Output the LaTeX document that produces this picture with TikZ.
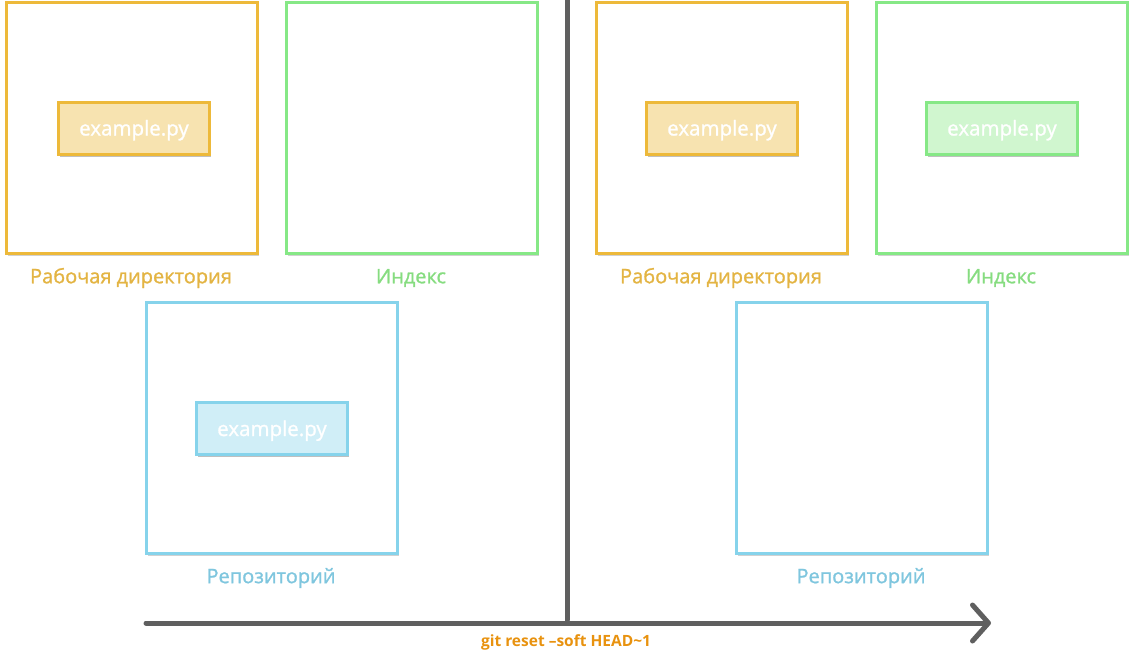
\documentclass[tikz,border=0pt]{standalone}
\usepackage{fontspec}
\setmainfont{Open Sans}
\newfontfamily\medfont{Open Sans}[FakeBold=1.2]
\usetikzlibrary{arrows.meta,shadows}
\definecolor{yel}{HTML}{EDB93A}
\definecolor{yelfill}{HTML}{F7E3B0}
\definecolor{yeltext}{HTML}{E3B443}
\definecolor{grn}{HTML}{86E886}
\definecolor{grnfill}{HTML}{D0F6CF}
\definecolor{grntext}{HTML}{86DC80}
\definecolor{blu}{HTML}{86D3EB}
\definecolor{blufill}{HTML}{D0EEF7}
\definecolor{blutext}{HTML}{7FC6DE}
\definecolor{axis}{HTML}{5F5F5F}
\definecolor{cmd}{HTML}{E8920F}
\newcommand{\fname}{\raisebox{-7.5pt}[0pt][0pt]{example.py}}
\tikzset{
  area/.style={draw=#1, line width=3pt, fill=white, minimum width=251pt, minimum height=251pt, inner sep=0pt,
    drop shadow={shadow xshift=1.5pt, shadow yshift=-2.5pt, opacity=0.18, fill=black}},
  filebox/.style={draw=#1, line width=3pt, minimum width=151pt, minimum height=52pt, inner sep=0pt,
    text=white, font=\medfont\fontsize{20.5}{22}\selectfont,
    drop shadow={shadow xshift=1.5pt, shadow yshift=-2.5pt, opacity=0.25, fill=black}},
  lbl/.style={text=#1, font=\medfont\fontsize{20}{22}\selectfont, inner sep=0pt},
  axisline/.style={draw=axis, line width=5pt, line cap=round},
}
\begin{document}
\begin{tikzpicture}[x=1pt,y=-1pt]
\useasboundingbox (0,0) rectangle (1134,653);
% left half
\node[area=yel] (lw) at (132,127.5) {};
\node[area=grn] (li) at (412,127.5) {};
\node[area=blu] (lr) at (272,427.5) {};
\node[filebox=yel, fill=yelfill] (lwf) at (134,128) {\fname};
\node[filebox=blu, fill=blufill] (lrf) at (272,428.5) {\fname};
\node[lbl=yeltext] (lwl) at (131,278) {Рабочая директория};
\node[lbl=grntext] (lil) at (411,278) {Индекс};
\node[lbl=blutext] (lrl) at (271,578) {Репозиторий};
% right half
\node[area=yel] (rw) at (722,127.5) {};
\node[area=grn] (ri) at (1002,127.5) {};
\node[area=blu] (rr) at (862,427.5) {};
\node[filebox=yel, fill=yelfill] (rwf) at (722,128) {\fname};
\node[filebox=grn, fill=grnfill] (rif) at (1002,128) {\fname};
\node[lbl=yeltext] (rwl) at (721,278) {Рабочая директория};
\node[lbl=grntext] (ril) at (1001,278) {Индекс};
\node[lbl=blutext] (rrl) at (861,578) {Репозиторий};
% axes
\coordinate (vtop) at (567,-3);
\coordinate (vbot) at (567,620);
\coordinate (hstart) at (146,623);
\coordinate (hend) at (991,623);
\draw[axisline] (vtop) -- (vbot);
\draw[axisline, -{Straight Barb[length=16pt,width=36pt,line cap=round,line join=round]}] (hstart) -- (hend);
\node[text=cmd, font=\fontsize{15.5}{18}\selectfont\bfseries, inner sep=0pt] (cmdl) at (566,642) {git reset –soft HEAD\textasciitilde1};
\end{tikzpicture}
\end{document}
